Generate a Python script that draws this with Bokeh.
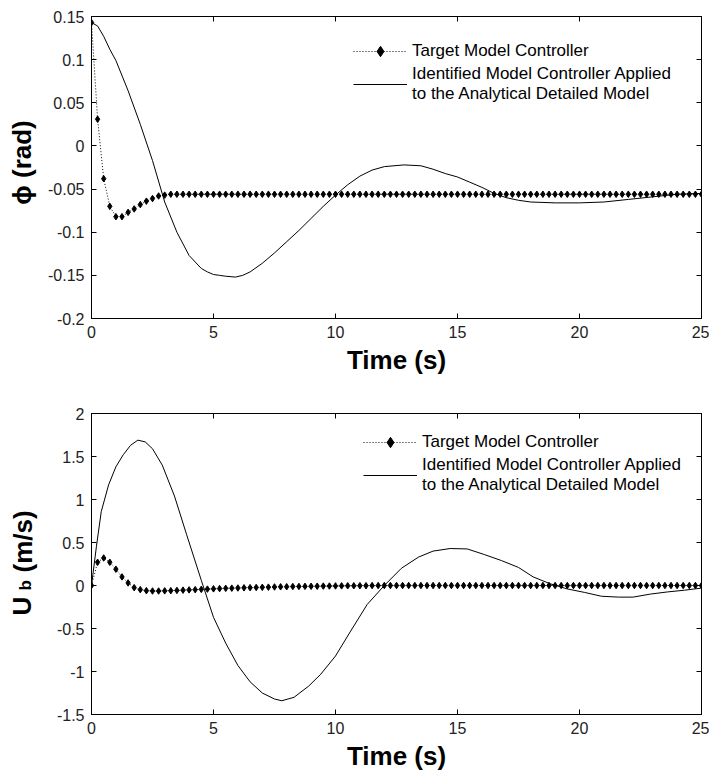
import numpy as np
from bokeh.plotting import figure
from bokeh.models import FixedTicker, LinearAxis, Legend, LegendItem, Label, Range1d
from bokeh.layouts import column, row
from bokeh.embed import file_html
from bokeh.resources import INLINE

FONT = "Liberation Sans"

# ---------------- data ----------------
# time grid of the target-model controller samples (s)
t_target = np.arange(0, 25.001, 0.25)

phi_target = [
    0.143, 0.031, -0.038, -0.070, -0.082, -0.082, -0.077, -0.073, -0.068, -0.064,
    -0.061, -0.058, -0.057, -0.056, -0.056, -0.056, -0.056, -0.056, -0.056, -0.056,
    -0.056, -0.056, -0.056, -0.056, -0.056, -0.056, -0.056, -0.056, -0.056, -0.056,
    -0.056, -0.056, -0.056, -0.056, -0.056, -0.056, -0.056, -0.056, -0.056, -0.056,
    -0.056, -0.056, -0.056, -0.056, -0.056, -0.056, -0.056, -0.056, -0.056, -0.056,
    -0.056, -0.056, -0.056, -0.056, -0.056, -0.056, -0.056, -0.056, -0.056, -0.056,
    -0.056, -0.056, -0.056, -0.056, -0.056, -0.056, -0.056, -0.056, -0.056, -0.056,
    -0.056, -0.056, -0.056, -0.056, -0.056, -0.056, -0.056, -0.056, -0.056, -0.056,
    -0.056, -0.056, -0.056, -0.056, -0.056, -0.056, -0.056, -0.056, -0.056, -0.056,
    -0.056, -0.056, -0.056, -0.056, -0.056, -0.056, -0.056, -0.056, -0.056, -0.056,
    -0.056,
]

ub_target = [
    0.000, 0.270, 0.320, 0.270, 0.190, 0.100, 0.030, -0.025, -0.048, -0.060,
    -0.064, -0.064, -0.062, -0.060, -0.057, -0.054, -0.051, -0.048, -0.045, -0.042,
    -0.039, -0.036, -0.033, -0.031, -0.029, -0.027, -0.025, -0.023, -0.021, -0.019,
    -0.017, -0.015, -0.014, -0.012, -0.011, -0.010, -0.009, -0.008, -0.007, -0.006,
    -0.005, -0.004, -0.003, -0.003, -0.002, -0.002, -0.001, -0.001, 0.000, 0.000,
    0.000, 0.000, 0.000, 0.000, 0.000, 0.000, 0.000, 0.000, 0.000, 0.000,
    0.000, 0.000, 0.000, 0.000, 0.000, 0.000, 0.000, 0.000, 0.000, 0.000,
    0.000, 0.000, 0.000, 0.000, 0.000, 0.000, 0.000, 0.000, 0.000, 0.000,
    0.000, 0.000, 0.000, 0.000, 0.000, 0.000, 0.000, 0.000, 0.000, 0.000,
    0.000, 0.000, 0.000, 0.000, 0.000, 0.000, 0.000, 0.000, 0.000, 0.000,
    0.000,
]

t_phi_ident = [0, 0.25, 0.5, 0.75, 1.0, 1.5, 2.0, 2.5, 3.0, 3.5, 4.0, 4.5, 4.75, 5.0,
               5.25, 5.5, 5.9, 6.2, 6.5, 7.0, 7.5, 8.0, 8.5, 9.0, 9.5, 10.0, 10.5,
               11.0, 11.5, 12.0, 12.8, 13.5, 14.0, 14.5, 15.0, 15.5, 16.0, 16.5, 17.0,
               17.5, 18.0, 19.0, 20.0, 21.0, 22.0, 23.0, 24.0, 25.0]
phi_ident = [0.143, 0.139, 0.127, 0.112, 0.099, 0.064, 0.025, -0.017, -0.065, -0.100,
             -0.127, -0.142, -0.146, -0.149, -0.150, -0.151, -0.152, -0.150, -0.146,
             -0.136, -0.124, -0.111, -0.098, -0.084, -0.070, -0.057, -0.045, -0.035,
             -0.028, -0.024, -0.022, -0.023, -0.027, -0.032, -0.036, -0.042, -0.048,
             -0.055, -0.060, -0.063, -0.065, -0.066, -0.066, -0.065, -0.062, -0.059,
             -0.056, -0.055]

t_ub_ident = [0, 0.2, 0.4, 0.7, 1.0, 1.3, 1.6, 1.9, 2.2, 2.5, 2.9, 3.4, 3.9, 4.5, 5.0,
              5.5, 6.0, 6.5, 7.0, 7.5, 7.8, 8.3, 8.9, 9.4, 10.0, 10.6, 11.3, 12.0,
              12.7, 13.4, 14.0, 14.7, 15.4, 16.1, 16.8, 17.5, 18.1, 18.8, 19.5, 20.2,
              20.9, 21.6, 22.2, 22.9, 23.6, 24.3, 25.0]
ub_ident = [0.0, 0.45, 0.86, 1.17, 1.38, 1.52, 1.63, 1.69, 1.67, 1.59, 1.40, 1.04, 0.59,
            0.06, -0.37, -0.67, -0.93, -1.12, -1.25, -1.32, -1.34, -1.30, -1.17, -1.03,
            -0.82, -0.54, -0.22, 0.0, 0.20, 0.33, 0.40, 0.43, 0.425, 0.36, 0.29, 0.21,
            0.10, 0.02, -0.04, -0.08, -0.125, -0.135, -0.135, -0.10, -0.075, -0.055, -0.03]

x_ticks = [0, 5, 10, 15, 20, 25]
x_tick_labels = ["0", "5", "10", "15", "20", "25"]
phi_ticks = [-0.2, -0.15, -0.1, -0.05, 0, 0.05, 0.1, 0.15]
phi_tick_labels = ["-0.2", "-0.15", "-0.1", "-0.05", "0", "0.05", "0.1", "0.15"]
ub_ticks = [-1.5, -1, -0.5, 0, 0.5, 1, 1.5, 2]
ub_tick_labels = ["-1.5", "-1", "-0.5", "0", "0.5", "1", "1.5", "2"]

x_label = "Time (s)"
phi_label = "\u03d5 (rad)"
ub_label_parts = ["U", "b", "(m/s)"]

legend_target = "Target Model Controller"
legend_ident = "Identified Model Controller Applied\nto the Analytical Detailed Model"

LABEL_W = 40
FIG_H = 387


def style_axis(ax, ticks, labels, show):
    ax.ticker = FixedTicker(ticks=ticks)
    ax.axis_line_color = "black"
    ax.axis_line_width = 1
    ax.major_tick_line_color = "black"
    ax.major_tick_in = 5
    ax.major_tick_out = 0
    ax.minor_tick_line_color = None
    ax.major_label_text_font = FONT
    if show:
        ax.major_label_overrides = {k: v for k, v in zip(ticks, labels)}
        ax.major_label_text_color = "#222222"
        ax.major_label_text_font_size = "16px"
        ax.major_label_standoff = 7
    else:
        ax.major_label_text_color = None
        ax.major_label_text_font_size = "1px"
        ax.major_label_standoff = 0
    ax.axis_label_text_font = FONT
    ax.axis_label_text_font_style = "bold"
    ax.axis_label_text_font_size = "26px"
    ax.axis_label_text_color = "black"


def make_panel(bt, bb, yr, yticks, ylabels, t_id, y_id, y_tg, legend_loc):
    p = figure(width=709 - LABEL_W, height=FIG_H, output_backend="svg",
               toolbar_location=None,
               x_range=Range1d(0, 25), y_range=Range1d(*yr),
               min_border_left=51, min_border_right=8, min_border_top=bt,
               min_border_bottom=bb, x_axis_label=x_label)
    p.grid.visible = False
    p.outline_line_color = "black"
    p.background_fill_color = "white"
    p.border_fill_color = "white"
    style_axis(p.xaxis[0], x_ticks, x_tick_labels, True)
    style_axis(p.yaxis[0], yticks, ylabels, True)
    p.xaxis[0].axis_label_standoff = 4
    top = LinearAxis()
    right = LinearAxis()
    style_axis(top, x_ticks, x_tick_labels, False)
    style_axis(right, yticks, ylabels, False)
    p.add_layout(top, "above")
    p.add_layout(right, "right")

    r_tl = p.line(t_target, y_tg, line_color="black", line_width=1, line_dash="1 2")
    r_tp = p.scatter(t_target, y_tg, marker="diamond", size=6.5, color="black")
    r_id = p.line(t_id, y_id, line_color="black", line_width=1)

    leg = Legend(items=[LegendItem(label=legend_target, renderers=[r_tl, r_tp]),
                        LegendItem(label=legend_ident, renderers=[r_id])],
                 location=legend_loc)
    leg.border_line_alpha = 0
    leg.background_fill_alpha = 0
    leg.padding = 0
    leg.margin = 0
    leg.spacing = 0
    leg.glyph_width = 54
    leg.glyph_height = 26
    leg.label_standoff = 5
    leg.label_text_font = FONT
    leg.label_text_font_size = "17px"
    leg.label_text_line_height = 1.3
    leg.label_text_color = "black"
    p.add_layout(leg)
    return p


def label_strip(bt, bb, parts):
    """Narrow plot holding the rotated y-axis title (allows a subscript).
    Its frame spans the same rows as the neighbouring plot's frame."""
    f = figure(width=LABEL_W, height=FIG_H, output_backend="svg", toolbar_location=None,
               x_axis_type=None, y_axis_type=None, x_range=Range1d(0, 1),
               y_range=Range1d(0, 1), min_border_left=0, min_border_right=0,
               min_border_top=bt, min_border_bottom=bb)
    f.grid.visible = False
    f.outline_line_color = None
    f.background_fill_color = "white"
    f.border_fill_color = "white"
    for txt, size, x, y, align in parts:
        f.add_layout(Label(x=x, y=y, x_units="screen", y_units="screen", text=txt,
                           angle=np.pi / 2, text_font=FONT, text_font_style="bold",
                           text_font_size=size, text_color="black",
                           text_baseline="alphabetic", text_align=align))
    return f


p1 = make_panel(16, 69, (-0.2, 0.15), phi_ticks, phi_tick_labels,
                t_phi_ident, phi_ident, phi_target, (262, 214))
p2 = make_panel(26, 60, (-1.5, 2), ub_ticks, ub_tick_labels,
                t_ub_ident, ub_ident, ub_target, (272, 219))

# label positions are measured from the bottom-left of each strip's frame
l1 = label_strip(16, 69, [(phi_label, "26px", 21, 156, "center")])
l2 = label_strip(26, 60, [(ub_label_parts[0], "26px", 21, 99, "left"),
                          (ub_label_parts[1], "17px", 25, 124, "left"),
                          (ub_label_parts[2], "26px", 22, 142, "left")])

layout = column(row(l1, p1, spacing=0), row(l2, p2, spacing=0), spacing=0)
open("out.html", "w").write(file_html(layout, INLINE))
